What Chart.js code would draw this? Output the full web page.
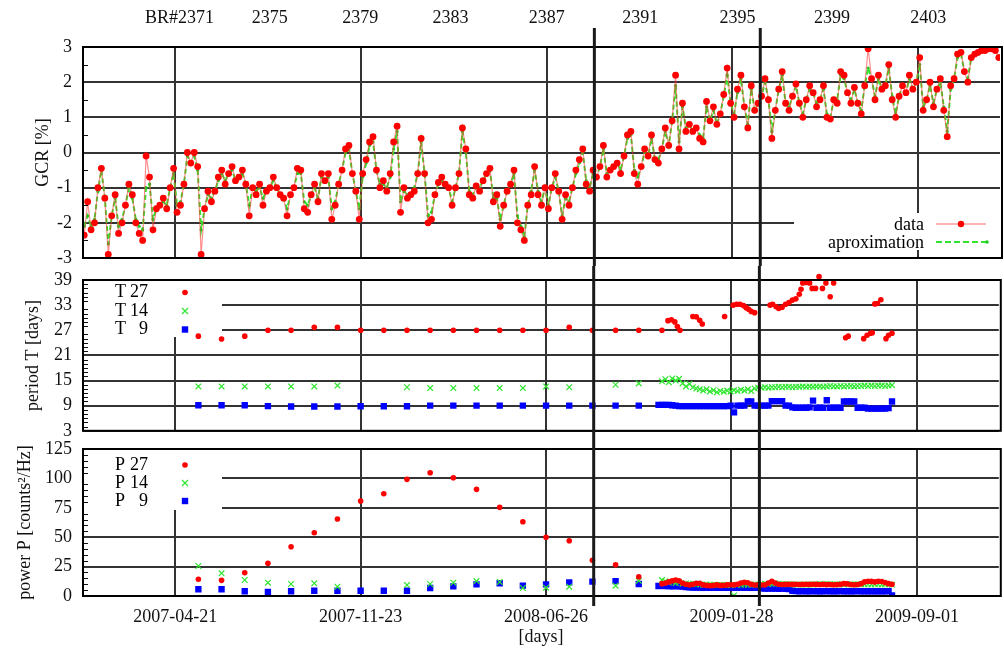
<!DOCTYPE html>
<html>
<head>
<meta charset="utf-8">
<script src="https://cdn.jsdelivr.net/npm/chart.js@4.4.0/dist/chart.umd.min.js"></script>
<style>
  html, body { margin: 0; padding: 0; background: #fff; }
  #wrap { position: relative; width: 1004px; height: 651px; overflow: hidden; }
  canvas { position: absolute; left: 0; }
</style>
</head>
<body>
<div id="wrap">
  <canvas id="gcrChart" width="1004" height="266" style="top:0"></canvas>
  <canvas id="periodChart" width="1004" height="170" style="top:266px"></canvas>
  <canvas id="powerChart" width="1004" height="215" style="top:436px"></canvas>
</div>
<script>
// x values are days counted from 2007-04-21
const dayMin = -107.4, dayMax = 959.4;
const dateTicks = [0, 216, 432, 648, 864];
const dateLabels = ['2007-04-21', '2007-11-23', '2008-06-26', '2009-01-28', '2009-09-01'];
const brTicks = [5, 110, 215, 320, 432, 541, 654, 764, 876];
const brLabels = ['BR#2371', '2375', '2379', '2383', '2387', '2391', '2395', '2399', '2403'];
const markerDays = [487.5, 680.5];

// GCR, one value every 4 days from day -106
const gcrStart = -106, gcrStep = 4;
const gcrData = [
  -2.35, -1.4, -2.2, -2.0, -1.0, -0.45, -1.3, -2.9, -1.8, -1.2,
  -2.3, -2.0, -1.5, -0.9, -1.2, -2.0, -2.3, -2.5, -0.1, -0.7,
  -2.2, -1.6, -1.5, -1.3, -1.6, -1.0, -0.45, -1.7, -1.5, -0.9,
  0.0, -0.3, 0.0, -0.4, -2.9, -1.6, -1.1, -1.4, -1.1, -0.7,
  -0.5, -0.9, -0.6, -0.4, -0.8, -0.7, -0.5, -0.9, -1.8, -1.0,
  -1.2, -0.9, -1.5, -1.1, -1.0, -0.7, -1.0, -1.2, -1.3, -1.8,
  -1.2, -1.0, -0.45, -0.5, -1.6, -1.7, -1.2, -0.9, -1.4, -0.6,
  -0.8, -0.6, -1.9, -1.5, -0.9, -0.5, 0.1, 0.2, -0.6, -1.1,
  -1.9, -0.6, -0.2, 0.3, 0.45, -0.5, -1.0, -0.8, -1.1, -0.6,
  0.3, 0.75, -1.7, -1.0, -1.3, -1.2, -1.1, -0.6, 0.4, -0.6,
  -2.0, -1.9, -1.2, -0.85, -0.7, -0.9, -1.0, -1.5, -1.0, -0.6,
  0.7, 0.1, -1.2, -1.3, -0.95, -1.1, -0.8, -0.6, -0.45, -1.4,
  -1.2, -2.1, -1.5, -1.1, -0.9, -0.5, -2.0, -2.2, -2.5, -1.5,
  -1.2, -0.4, -1.2, -1.5, -1.0, -1.6, -1.0, -0.6, -1.1, -1.9,
  -1.2, -1.5, -1.0, -0.5, -0.2, 0.1, -0.9, -1.1, -0.5, -0.7,
  -0.4, 0.2, -0.7, -0.5, -0.4, -0.3, -0.6, -0.1, 0.5, 0.6,
  -0.6, -0.9, -0.4, 0.1, -0.1, 0.5, -0.2, -0.3, 0.1, 0.7,
  0.2, 0.9, 2.2, 0.1, 1.4, 0.6,
  0.8, 0.6, 0.7, 0.4, 0.3, 1.45, 0.9, 1.3, 0.8, 1.1,
  1.65, 2.4, 1.4, 1.0, 1.8, 2.2, 1.3, 0.7, 1.9, 1.2,
  1.4, 1.6, 2.1, 1.5, 0.4, 1.2, 1.8, 2.3, 1.4, 1.2,
  1.6, 1.95, 1.4, 1.0, 1.5, 1.9, 1.7, 1.3, 1.5, 1.9,
  1.0, 0.95, 1.5, 1.4, 2.3, 2.2, 1.7, 1.4, 1.85, 1.4,
  1.1, 1.9, 2.95, 2.1, 1.5, 2.2, 1.8, 1.9, 2.5, 1.5,
  1.0, 1.6, 1.9, 1.7, 2.2, 1.8, 2.0, 2.7, 1.2, 1.5,
  2.0, 1.3, 1.8, 2.1, 1.2, 0.45, 1.9, 2.1, 2.8, 2.85,
  2.3, 2.0, 2.7, 2.8, 2.85, 2.9, 2.9, 2.95, 2.95, 2.9, 2.7
];
const gcrApprox = [
  -2.1, -1.8, -2.1, -1.9, -1.1, -0.5, -1.3, -2.6, -1.8, -1.3,
  -2.1, -1.9, -1.5, -1.0, -1.3, -1.9, -2.1, -2.2, -1.0, -0.9,
  -1.9, -1.6, -1.5, -1.4, -1.5, -1.0, -0.6, -1.5, -1.4, -0.9,
  -0.1, -0.3, -0.1, -0.5, -2.2, -1.6, -1.2, -1.3, -1.1, -0.8,
  -0.6, -0.8, -0.6, -0.5, -0.8, -0.7, -0.6, -0.9, -1.5, -1.0,
  -1.1, -1.0, -1.3, -1.1, -1.0, -0.8, -1.0, -1.2, -1.3, -1.6,
  -1.2, -1.0, -0.6, -0.6, -1.4, -1.5, -1.2, -1.0, -1.3, -0.7,
  -0.8, -0.7, -1.6, -1.4, -0.9, -0.5, 0.0, 0.1, -0.6, -1.1,
  -1.6, -0.7, -0.3, 0.2, 0.3, -0.5, -0.9, -0.9, -1.0, -0.7,
  0.1, 0.6, -1.4, -1.1, -1.2, -1.2, -1.0, -0.6, 0.3, -0.6,
  -1.8, -1.7, -1.2, -0.9, -0.8, -0.9, -1.0, -1.4, -1.0, -0.6,
  0.6, 0.0, -1.1, -1.2, -1.0, -1.0, -0.8, -0.6, -0.5, -1.3,
  -1.3, -1.9, -1.5, -1.1, -0.9, -0.6, -1.8, -2.1, -2.4, -1.5,
  -1.1, -0.5, -1.1, -1.4, -1.0, -1.5, -1.0, -0.7, -1.1, -1.8,
  -1.3, -1.4, -1.0, -0.6, -0.3, 0.0, -0.8, -1.0, -0.6, -0.7,
  -0.4, 0.1, -0.6, -0.5, -0.4, -0.3, -0.5, -0.1, 0.4, 0.5,
  -0.5, -0.7, -0.4, 0.0, -0.1, 0.4, -0.2, -0.2, 0.1, 0.6,
  0.2, 0.9, 1.9, 0.3, 1.3, 0.7,
  0.8, 0.6, 0.7, 0.5, 0.4, 1.3, 0.9, 1.2, 0.8, 1.1,
  1.6, 2.2, 1.4, 1.1, 1.7, 2.1, 1.3, 0.8, 1.8, 1.2,
  1.4, 1.6, 2.0, 1.5, 0.6, 1.2, 1.8, 2.2, 1.4, 1.3,
  1.6, 1.9, 1.4, 1.1, 1.5, 1.8, 1.7, 1.4, 1.5, 1.8,
  1.1, 1.0, 1.5, 1.5, 2.2, 2.1, 1.7, 1.5, 1.8, 1.4,
  1.2, 1.9, 2.4, 2.1, 1.6, 2.1, 1.8, 1.9, 2.4, 1.6,
  1.1, 1.6, 1.9, 1.7, 2.1, 1.8, 2.0, 2.5, 1.3, 1.5,
  1.9, 1.4, 1.8, 2.0, 1.3, 0.6, 1.8, 2.1, 2.7, 2.8,
  2.3, 2.1, 2.7, 2.8, 2.8, 2.85, 2.9, 2.9, 2.9, 2.9, 2.75
];

// monthly (27 day) estimates
const monthDays = [27, 54, 81, 108, 135, 162, 189, 216, 243, 270, 297, 324, 351, 378, 405, 432, 459, 486, 513, 540];
const month14Days = [27, 54, 81, 108, 135, 162, 189, 270, 297, 324, 351, 378, 405, 432, 459, 513, 540];
const t27Month = [25.6, 24.9, 25.6, 27, 27, 27.7, 27.7, 27, 27, 27, 27, 27, 27, 27, 27, 27, 27.7, 27, 27, 27];
const t14Month = [13.6, 13.6, 13.6, 13.6, 13.6, 13.6, 13.8, 13.4, 13.2, 13.2, 13.2, 13.2, 13.2, 13.6, 13.4, 14.0, 14.3];
const t9Month = [9.1, 9.1, 9.1, 8.9, 8.8, 8.8, 8.8, 8.85, 8.85, 8.85, 9.0, 9.0, 9.0, 9.0, 9.0, 9.0, 9.0, 9.0, 9.0, 9.0];
const p27Month = [14.2, 13.3, 19.8, 27.8, 41.9, 53.8, 65.5, 80.8, 87, 99.2, 104.8, 100.6, 90.7, 75.4, 63.2, 49.9, 47.0, 30.3, 26.6, 16.4];
const p14Month = [25.5, 19.3, 13.6, 11.3, 10.2, 10.8, 7.9, 9.3, 10.2, 11.3, 12.7, 12.0, 6.8, 7.1, 7.9, 8.8, 13.0];
const p9Month = [5.7, 5.7, 4.0, 3.4, 4.0, 4.5, 4.5, 4.5, 4.5, 4.5, 6.8, 8.2, 9.9, 10.8, 8.8, 9.9, 11.6, 12.2, 12.7, 10.2];

// daily-window estimates after 2008-11
const t27DenseDays = [567, 574, 578, 582, 585, 588, 603, 607, 611, 614, 640, 650, 654, 658, 662, 665, 668, 671, 675,
  693, 696, 700, 703, 707, 711, 715, 719, 723, 727, 729, 731, 735, 739, 742, 746, 750, 754, 758, 763, 767,
  781, 784, 802, 806, 810, 812, 815, 818, 822, 828, 831, 835];
const t27DenseVals = [27.0, 29.3, 29.5, 29.0, 27.9, 27.0, 30.3, 30.2, 29.4, 28.5, 30.3, 33.0, 33.2, 33.2, 32.9, 32.4, 32.0, 31.5, 31.2,
  33.0, 33.2, 32.6, 32.2, 32.5, 33.2, 33.6, 34.2, 34.5, 35.6, 36.8, 38.3, 38.4, 38.3, 37.0, 37.0, 39.8, 37.0, 38.3, 35.0, 38.3,
  25.2, 25.6, 25.0, 25.8, 26.3, 26.4, 33.3, 33.4, 34.3, 25.0, 25.8, 26.3];
const denseStart = 567, blueStart = 563, denseStep = 4;
const t14Dense = [
  14.8, 15.3, 14.6, 15.5, 15.0, 15.4, 14.3, 13.6, 14.2, 13.4,
  13.1, 12.9, 12.6, 12.9, 12.4, 12.7, 12.2, 12.5, 12.3, 12.6,
  12.4, 12.7, 12.5, 12.8, 12.6, 12.9, 12.5, 13.1, 13.3, 13.3,
  13.4, 13.3, 13.4, 13.4, 13.5, 13.4, 13.5, 13.5, 13.4, 13.5,
  13.5, 13.6, 13.5, 13.6, 13.5, 13.6, 13.6, 13.5, 13.6, 13.7,
  13.6, 13.6, 13.7, 13.6, 13.7, 13.7, 13.6, 13.7, 13.7, 13.8,
  13.7, 13.8, 13.7, 13.8, 13.8, 13.7, 13.8, 13.9
];
const t9Dense = [
  9.2, 9.2, 9.2, 9.2, 9.1, 9.0, 8.9, 8.9, 8.9, 8.9,
  8.9, 8.9, 8.9, 8.9, 8.9, 8.9, 8.9, 8.9, 8.9, 8.9,
  8.9, 9.0, 7.4, 9.0, 9.0, 9.0, 10.0, 10.0, 9.0, 9.0,
  9.0, 9.0, 9.0, 10.1, 10.1, 10.1, 10.1, 9.0, 9.0, 8.6,
  8.5, 8.5, 8.5, 8.5, 8.6, 10.2, 8.5, 8.5, 8.5, 10.3,
  8.5, 8.5, 8.5, 8.5, 10.0, 10.0, 10.0, 10.0, 8.5, 8.5,
  8.5, 8.3, 8.3, 8.3, 8.3, 8.3, 8.3, 8.4, 10.0
];
const p27Dense = [
  10.5, 11.0, 12.0, 13.0, 13.6, 13.0, 11.0, 10.0, 9.5, 10.0,
  10.8, 10.8, 9.5, 9.0, 8.8, 9.0, 9.5, 9.0, 9.2, 9.5,
  9.6, 9.5, 10.0, 11.0, 11.6, 11.2, 10.0, 9.4, 9.5, 9.4,
  9.5, 11.0, 12.5, 11.0, 10.0, 9.8, 9.9, 10.0, 9.9, 10.0,
  9.8, 9.9, 10.0, 9.9, 10.0, 9.9, 9.8, 9.9, 9.7, 9.8,
  9.6, 9.7, 9.9, 10.5, 10.3, 9.8, 9.6, 9.8, 10.5, 12.0,
  12.5, 12.4, 12.0, 12.5, 12.3, 11.5, 10.5, 10.0
];
const p14Dense = [
  13.5, 12.5, 11.5, 12.0, 11.0, 11.5, 10.5, 10.8, 10.0, 10.5,
  10.0, 9.8, 9.5, 9.8, 9.5, 9.6, 9.4, 9.5, 9.3, 9.5,
  9.2, 0.5, 9.5, 9.6, 9.8, 9.5, 9.7, 9.8, 9.6, 10.0,
  10.5, 10.2, 10.5, 10.8, 10.5, 10.0, 10.2, 10.0, 9.8, 9.8,
  9.7, 9.8, 9.6, 9.7, 9.8, 9.9, 10.2, 10.0, 10.0, 10.2,
  9.8, 9.9, 10.0, 9.8, 9.9, 10.0, 9.8, 9.9, 10.0, 9.9,
  10.0, 9.8, 9.9, 10.0, 9.8, 9.9, 9.8, 9.5
];
const p9Dense = [
  8.5, 8.6, 8.4, 8.5, 8.3, 8.4, 8.2, 8.0, 7.6, 7.4,
  7.2, 7.1, 7.1, 7.0, 7.1, 7.0, 7.1, 7.0, 7.0, 7.1,
  7.0, 7.1, 7.0, 7.0, 7.1, 7.0, 7.0, 6.9, 6.9, 7.0,
  6.5, 6.3, 6.3, 6.4, 6.3, 6.2, 6.3, 6.2, 6.0, 4.5,
  4.2, 4.0, 4.1, 4.0, 4.0, 4.1, 4.0, 4.0, 4.0, 4.1,
  4.0, 4.0, 4.0, 4.1, 4.0, 4.0, 4.0, 4.0, 4.1, 4.0,
  4.0, 4.0, 4.0, 4.0, 4.0, 4.0, 4.0, 4.1, 0.5
];

const RED = '#ff0000', GREEN = '#2ee62e', BLUE = '#0000ff';
const gridColor = '#333';
const serif = '"Liberation Serif", "Times New Roman", serif';

Chart.defaults.font.family = serif;
Chart.defaults.font.size = 18;
Chart.defaults.color = '#111';

function seq(start, step, n) { return Array.from({length: n}, (_, i) => start + i * step); }
function pts(days, vals) { return vals.map((v, i) => ({x: days[i], y: v})); }

function mark(ctx, kind, x, y) {
  ctx.save();
  if (kind === 'dot') {
    ctx.fillStyle = RED;
    ctx.beginPath(); ctx.arc(x, y, 2.8, 0, Math.PI * 2); ctx.fill();
  } else if (kind === 'cross') {
    ctx.strokeStyle = GREEN; ctx.lineWidth = 1.2;
    ctx.beginPath();
    ctx.moveTo(x - 3, y - 3); ctx.lineTo(x + 3, y + 3);
    ctx.moveTo(x - 3, y + 3); ctx.lineTo(x + 3, y - 3);
    ctx.stroke();
  } else {
    ctx.fillStyle = BLUE;
    ctx.fillRect(x - 3.2, y - 3.2, 6.4, 6.4);
  }
  ctx.restore();
}

function sideLegend(prefix, offs) {
  return (ctx, a) => {
    const nums = ['27', '14', '9'], kinds = ['dot', 'cross', 'square'];
    ctx.save();
    ctx.font = '18px ' + serif;
    ctx.fillStyle = '#000';
    ctx.textBaseline = 'middle';
    nums.forEach((n, i) => {
      const y = a.top + offs[i];
      ctx.textAlign = 'left'; ctx.fillText(prefix, a.left + 32, y);
      ctx.textAlign = 'right'; ctx.fillText(n, a.left + 65, y);
      mark(ctx, kinds[i], a.left + 102, y);
    });
    ctx.restore();
  };
}

function gcrLegend(ctx, a) {
  ctx.save();
  ctx.font = '18px ' + serif;
  ctx.fillStyle = '#000';
  ctx.textAlign = 'right';
  ctx.textBaseline = 'middle';
  ctx.fillText('data', a.right - 76, a.bottom - 33);
  ctx.fillText('aproximation', a.right - 76, a.bottom - 15);
  ctx.strokeStyle = 'rgba(255,40,40,0.7)'; ctx.lineWidth = 1;
  ctx.beginPath(); ctx.moveTo(a.right - 64, a.bottom - 34); ctx.lineTo(a.right - 14, a.bottom - 34); ctx.stroke();
  ctx.fillStyle = RED;
  ctx.beginPath(); ctx.arc(a.right - 39, a.bottom - 34, 3.2, 0, Math.PI * 2); ctx.fill();
  ctx.strokeStyle = GREEN; ctx.lineWidth = 2; ctx.setLineDash([6, 3]);
  ctx.beginPath(); ctx.moveTo(a.right - 64, a.bottom - 16); ctx.lineTo(a.right - 12, a.bottom - 16); ctx.stroke();
  ctx.setLineDash([]);
  ctx.fillStyle = '#22cc22';
  ctx.beginPath(); ctx.arc(a.right - 13, a.bottom - 16, 1.8, 0, Math.PI * 2); ctx.fill();
  ctx.restore();
}

// white legend boxes over the grid, frame, minor ticks and the two thick day markers
const panelDecor = {
  id: 'panelDecor',
  beforeDatasetsDraw(chart, args, opts) {
    if (!opts.box) return;
    const b = opts.box(chart.chartArea);
    chart.ctx.save();
    chart.ctx.fillStyle = '#fff';
    chart.ctx.fillRect(b[0], b[1], b[2], b[3]);
    chart.ctx.restore();
  },
  afterDraw(chart, args, opts) {
    const ctx = chart.ctx, a = chart.chartArea, y = chart.scales.y, x = chart.scales.x;
    ctx.save();
    if (opts.legend) opts.legend(ctx, a);
    ctx.strokeStyle = '#111';
    ctx.lineWidth = 1;
    const step = y.options.ticks.stepSize;
    for (let v = y.min; v <= y.max + 1e-9; v += opts.minor) {
      const k = (v - y.min) / step;
      if (Math.abs(k - Math.round(k)) < 1e-6) continue;
      const py = Math.round(y.getPixelForValue(v)) + 0.5;
      ctx.beginPath(); ctx.moveTo(a.left, py); ctx.lineTo(a.left + 5, py); ctx.stroke();
    }
    ctx.strokeStyle = '#000';
    ctx.lineWidth = 2;
    ctx.strokeRect(a.left, a.top, a.right - a.left + 2, a.bottom - a.top);
    ctx.strokeStyle = '#1a1a1a';
    ctx.lineWidth = 3;
    const bottom = opts.lineBottom != null ? opts.lineBottom : chart.height;
    markerDays.forEach(d => {
      const px = x.getPixelForValue(d);
      ctx.beginPath(); ctx.moveTo(px, opts.lineTop); ctx.lineTo(px, bottom); ctx.stroke();
    });
    ctx.restore();
  }
};
Chart.register(panelDecor);

function xScale(showLabels) {
  return {
    type: 'linear', min: dayMin, max: dayMax,
    afterBuildTicks: s => { s.ticks = dateTicks.map(v => ({value: v})); },
    grid: { color: gridColor, lineWidth: 2, drawTicks: false },
    border: { display: false },
    ticks: {
      display: showLabels, padding: 10, maxRotation: 0, autoSkip: false, color: '#111',
      callback: v => dateLabels[dateTicks.indexOf(v)]
    },
    title: { display: showLabels, text: '[days]', color: '#111', padding: {top: 0, bottom: 3} },
    afterFit: s => { s.height = showLabels ? 55 : 0; s.paddingLeft = 0; s.paddingRight = 0; }
  };
}

function yScale(min, max, step, title, titlePad) {
  return {
    min: min, max: max,
    ticks: { stepSize: step, padding: 11, color: '#111', autoSkip: false },
    grid: { color: gridColor, lineWidth: 2, drawTicks: false },
    border: { display: false },
    title: { display: true, text: title, color: '#111', padding: {top: titlePad, bottom: 0} },
    afterFit: s => { s.width = 83; s.paddingTop = 0; s.paddingBottom = 0; }
  };
}

function baseOptions(scales, padding, decor) {
  return {
    responsive: false,
    animation: false,
    devicePixelRatio: 1,
    layout: { padding: padding },
    plugins: { legend: { display: false }, tooltip: { enabled: false }, panelDecor: decor },
    scales: scales
  };
}

const gcrDays = seq(gcrStart, gcrStep, gcrData.length);

new Chart(document.getElementById('gcrChart'), {
  type: 'scatter',
  data: {
    datasets: [{
      label: 'data',
      data: pts(gcrDays, gcrData),
      showLine: true,
      borderColor: 'rgba(255,50,50,0.55)',
      borderWidth: 1.2,
      pointRadius: 3.4,
      pointBackgroundColor: RED,
      pointBorderWidth: 0
    }, {
      label: 'aproximation',
      data: pts(gcrDays, gcrApprox),
      showLine: true,
      borderColor: GREEN,
      borderWidth: 2,
      borderDash: [5, 3],
      pointRadius: 1.6,
      pointBackgroundColor: '#22cc22',
      pointBorderWidth: 0
    }]
  },
  options: baseOptions({
    x: xScale(false),
    xb: {
      type: 'linear', position: 'top', min: dayMin, max: dayMax,
      afterBuildTicks: s => { s.ticks = brTicks.map(v => ({value: v})); },
      grid: { display: false, drawTicks: false },
      border: { display: false },
      ticks: { padding: 18, maxRotation: 0, autoSkip: false, color: '#111',
        callback: v => brLabels[brTicks.indexOf(v)] },
      afterFit: s => { s.height = 47; s.paddingLeft = 0; s.paddingRight = 0; }
    },
    y: yScale(-3, 3, 1, 'GCR [%]', 32)
  }, {top: 0, bottom: 8, left: 0, right: 0}, {
    minor: 0.5, lineTop: 28,
    box: a => [a.right - 206, a.bottom - 45, 206, 37],
    legend: gcrLegend
  })
});

new Chart(document.getElementById('periodChart'), {
  type: 'scatter',
  data: {
    datasets: [{
      label: 'T 27',
      data: pts(monthDays, t27Month).concat(pts(t27DenseDays, t27DenseVals)),
      pointStyle: 'circle', pointRadius: 2.8, pointBackgroundColor: RED, pointBorderWidth: 0,
      clip: false
    }, {
      label: 'T 14',
      data: pts(month14Days, t14Month).concat(pts(seq(denseStart, denseStep, t14Dense.length), t14Dense)),
      pointStyle: 'crossRot', pointRadius: 4, pointBorderColor: GREEN, pointBorderWidth: 1.2
    }, {
      label: 'T 9',
      data: pts(monthDays, t9Month).concat(pts(seq(blueStart, denseStep, t9Dense.length), t9Dense)),
      pointStyle: 'rect', pointRadius: 4.5, pointBackgroundColor: BLUE, pointBorderWidth: 0
    }]
  },
  options: baseOptions({
    x: xScale(false),
    y: yScale(3, 39, 6, 'period T [days]', 22)
  }, {top: 14, bottom: 5, left: 0, right: 0}, {
    minor: 1, lineTop: 0,
    box: a => [a.left + 1, a.top + 1, 138, 56],
    legend: sideLegend('T', [12.5, 31, 49.5])
  })
});

new Chart(document.getElementById('powerChart'), {
  type: 'scatter',
  data: {
    datasets: [{
      label: 'P 27',
      data: pts(monthDays, p27Month).concat(pts(seq(denseStart, denseStep, p27Dense.length), p27Dense)),
      pointStyle: 'circle', pointRadius: 2.8, pointBackgroundColor: RED, pointBorderWidth: 0
    }, {
      label: 'P 14',
      data: pts(month14Days, p14Month).concat(pts(seq(denseStart, denseStep, p14Dense.length), p14Dense)),
      pointStyle: 'crossRot', pointRadius: 4, pointBorderColor: GREEN, pointBorderWidth: 1.2
    }, {
      label: 'P 9',
      data: pts(monthDays, p9Month).concat(pts(seq(blueStart, denseStep, p9Dense.length), p9Dense)),
      pointStyle: 'rect', pointRadius: 4.5, pointBackgroundColor: BLUE, pointBorderWidth: 0
    }]
  },
  options: baseOptions({
    x: xScale(true),
    y: yScale(0, 125, 25, 'power P [counts²/Hz]', 14)
  }, {top: 13, bottom: 0, left: 0, right: 0}, {
    minor: 5, lineTop: 0, lineBottom: 170,
    box: a => [a.left + 1, a.top + 1, 138, 60],
    legend: sideLegend('P', [16, 34, 52])
  })
});
</script>
</body>
</html>
